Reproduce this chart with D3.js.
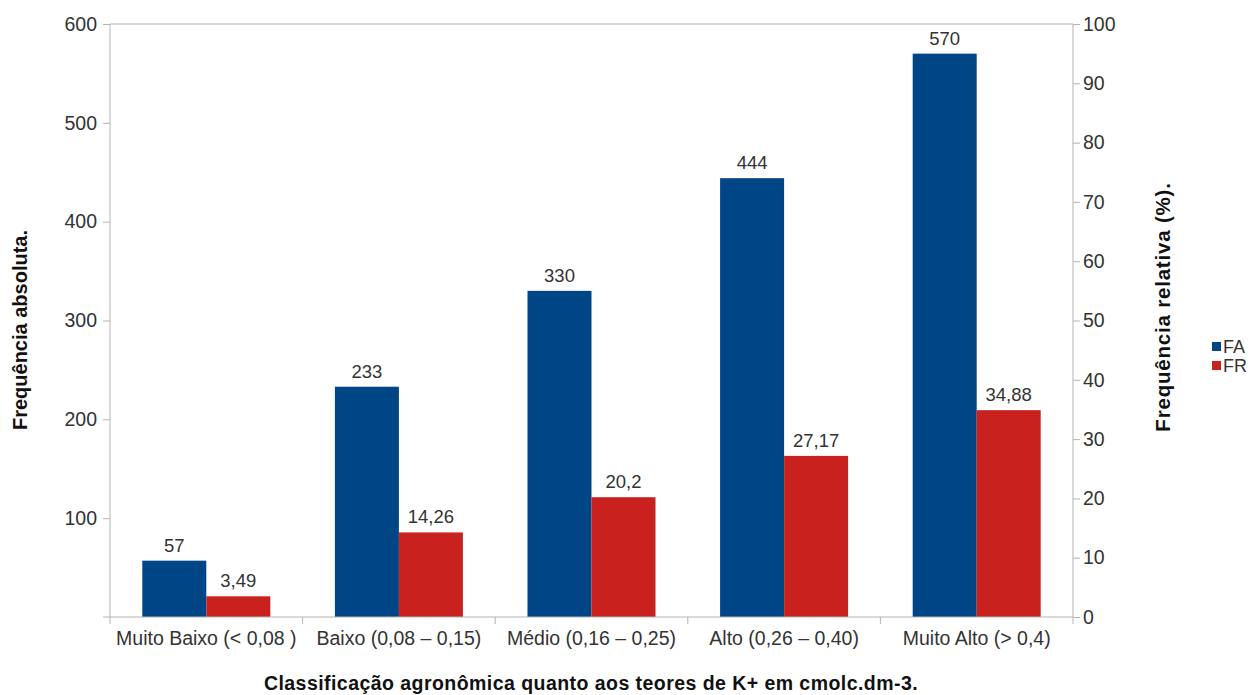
<!DOCTYPE html>
<html><head><meta charset="utf-8">
<script src="https://cdn.jsdelivr.net/npm/d3@7"></script>
<style>body{margin:0;background:#fff}text{font-family:"Liberation Sans",Arial,sans-serif}</style>
</head><body><svg id="c" width="1256" height="695"></svg>
<script>
const categories = ["Muito Baixo (< 0,08 )","Baixo (0,08 – 0,15)","Médio (0,16 – 0,25)","Alto (0,26 – 0,40)","Muito Alto (> 0,4)"];
const faValues = [57,233,330,444,570];
const frValues = [3.49,14.26,20.2,27.17,34.88];
const frLabels = ["3,49","14,26","20,2","27,17","34,88"];
const leftTicks = [100,200,300,400,500,600];
const rightTicks = [0,10,20,30,40,50,60,70,80,90,100];

const svg = d3.select("#c");
const L=110,R=1073,T=24,B=617;
const x = d3.scaleBand().domain(categories).range([L,R]);
const yL = d3.scaleLinear().domain([0,600]).range([B,T]);
const yR = d3.scaleLinear().domain([0,100]).range([B,T]);
const axisCol="#b3b3b3", txtCol="#333";
const bw = 64, off = (x.bandwidth()-2*bw)/2;

svg.append("line").attr("x1",L).attr("x2",R).attr("y1",T).attr("y2",T).attr("stroke",axisCol);

svg.selectAll(".fa").data(faValues).join("rect")
 .attr("x",(d,i)=>x(categories[i])+off).attr("width",bw)
 .attr("y",d=>yL(d)).attr("height",d=>B-yL(d)).attr("fill","#004586");
svg.selectAll(".fr").data(frValues).join("rect")
 .attr("x",(d,i)=>x(categories[i])+off+bw).attr("width",bw)
 .attr("y",d=>yR(d)).attr("height",d=>B-yR(d)).attr("fill","#c9211e");

svg.selectAll(".fal").data(faValues).join("text")
 .attr("x",(d,i)=>x(categories[i])+off+bw/2).attr("y",d=>yL(d)-9)
 .attr("text-anchor","middle").attr("font-size",18.5).attr("fill",txtCol).text(d=>d);
svg.selectAll(".frl").data(frValues).join("text")
 .attr("x",(d,i)=>x(categories[i])+off+bw*1.5).attr("y",d=>yR(d)-9)
 .attr("text-anchor","middle").attr("font-size",18.5).attr("fill",txtCol).text((d,i)=>frLabels[i]);

const gl = svg.append("g").attr("transform",`translate(${L},0)`)
 .call(d3.axisLeft(yL).tickValues(leftTicks).tickSize(7).tickPadding(6));
const gr = svg.append("g").attr("transform",`translate(${R},0)`)
 .call(d3.axisRight(yR).tickValues(rightTicks).tickSize(7).tickPadding(3));
const gb = svg.append("g").attr("transform",`translate(0,${B})`)
 .call(d3.axisBottom(x).tickSize(0).tickPadding(14));
svg.selectAll(".sep").data(d3.range(categories.length+1)).join("line")
 .attr("x1",i=>L+i*x.bandwidth()).attr("x2",i=>L+i*x.bandwidth())
 .attr("y1",B).attr("y2",B+7).attr("stroke",axisCol);
[gl,gr,gb].forEach(g=>{
 g.selectAll("path,line").attr("stroke",axisCol);
 g.selectAll("text").attr("font-size",19.5).attr("fill",txtCol).attr("font-family","Liberation Sans, Arial, sans-serif");
});
gl.select(".domain").attr("d",`M0,${B}V${T}`);
gr.select(".domain").attr("d",`M0,${B}V${T}`);
gb.select(".domain").attr("d",`M${L-7},0H${R}`);

svg.append("text").attr("transform",`translate(27,330) rotate(-90)`)
 .attr("text-anchor","middle").attr("font-size",20).attr("font-weight","bold").attr("fill","#111").text("Frequência absoluta.");
svg.append("text").attr("transform",`translate(1170,307) rotate(-90)`)
 .attr("text-anchor","middle").attr("font-size",20.5).attr("letter-spacing",0.8).attr("font-weight","bold").attr("fill","#111").text("Frequência relativa (%).");
svg.append("text").attr("x",591).attr("y",690)
 .attr("text-anchor","middle").attr("font-size",19.5).attr("letter-spacing",0.45).attr("font-weight","bold").attr("fill","#111").text("Classificação agronômica quanto aos teores de K+ em cmolc.dm-3.");

const leg = [["FA","#004586"],["FR","#c9211e"]];
leg.forEach((d,i)=>{
 svg.append("rect").attr("x",1212).attr("y",342+i*19).attr("width",9).attr("height",9).attr("fill",d[1]);
 svg.append("text").attr("x",1223).attr("y",353+i*19).attr("font-size",18).attr("fill",txtCol).text(d[0]);
});
</script></body></html>
